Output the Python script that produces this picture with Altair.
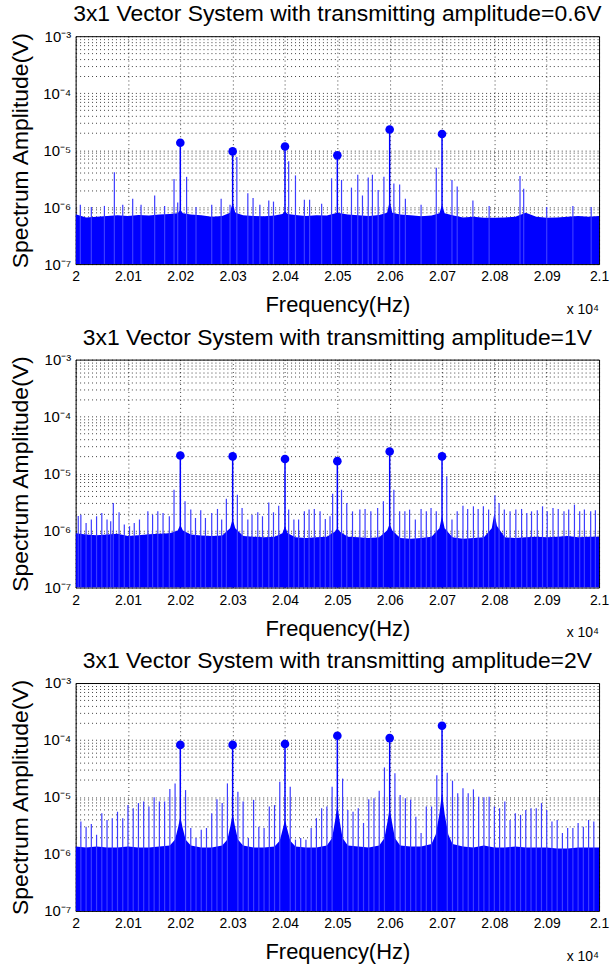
import altair as alt
import pandas as pd

FONT = "Liberation Sans"
BLUE = "#0000ff"
SPIKE = "#3c3cff"
BASE = 1e-7

# ---------------- shared axis values ----------------
x_ticks = [20000, 20100, 20200, 20300, 20400, 20500, 20600, 20700, 20800, 20900, 21000]
y_decades = [1e-7, 1e-6, 1e-5, 1e-4, 1e-3]
y_grid = [m * d for d in [1e-7, 1e-6, 1e-5, 1e-4] for m in range(1, 10)] + [1e-3]

titles = [
    "3x1 Vector System with transmitting amplitude=0.6V",
    "3x1 Vector System with transmitting amplitude=1V",
    "3x1 Vector System with transmitting amplitude=2V",
]

peak_f = [20200, 20300, 20400, 20500, 20600, 20700]

# ---------------- panel 1 : 0.6 V ----------------
p1_peak_v = [1.35e-5, 9.5e-6, 1.16e-5, 8.1e-6, 2.3e-5, 1.92e-5]
p1_spike_f = [20009, 20030, 20055, 20074, 20090, 20109, 20125, 20151, 20170, 20188,
              20195, 20212, 20230, 20260, 20278, 20295, 20308, 20329, 20339, 20352,
              20369, 20378, 20407, 20420, 20437, 20447, 20470, 20489, 20508, 20527,
              20539, 20548, 20559, 20567, 20578, 20589, 20608, 20619, 20630, 20660,
              20689, 20719, 20729, 20759, 20790, 20849, 20856, 20900, 20950, 20985]
p1_spike_v = [1.1e-6, 1.0e-6, 1.05e-6, 4.1e-6, 1.1e-6, 1.4e-6, 1.1e-6, 1.6e-6, 1.05e-6, 3.1e-6,
              1.2e-6, 3.4e-6, 1.0e-6, 1.1e-6, 1.4e-6, 1.1e-6, 7.6e-6, 1.75e-6, 1.45e-6, 1.1e-6,
              1.3e-6, 1.25e-6, 6.4e-6, 3.6e-6, 1.35e-6, 1.35e-6, 1.15e-6, 3.2e-6, 3.0e-6, 2.2e-6,
              3.7e-6, 1.6e-6, 3.3e-6, 3.7e-6, 2.0e-6, 3.4e-6, 2.6e-6, 2.5e-6, 1.4e-6, 1.1e-6,
              4.9e-6, 3.0e-6, 2.3e-6, 1.3e-6, 1.05e-6, 3.5e-6, 2.1e-6, 1.0e-6, 1.05e-6, 1.0e-6]
p1_floor_f = [20000, 20020, 20040, 20060, 20080, 20100, 20120, 20140, 20160, 20180,
              20195, 20200, 20205, 20220, 20240, 20260, 20280, 20295, 20300, 20305,
              20320, 20340, 20360, 20380, 20395, 20400, 20405, 20420, 20440, 20460,
              20480, 20500, 20520, 20540, 20560, 20580, 20595, 20600, 20605, 20620,
              20640, 20660, 20680, 20695, 20700, 20705, 20720, 20740, 20760, 20780,
              20800, 20820, 20840, 20860, 20880, 20900, 20920, 20940, 20960, 20980, 21000]
p1_floor_v = [7.5e-7, 6.6e-7, 6.8e-7, 7.0e-7, 7.2e-7, 7.0e-7, 7.3e-7, 7.1e-7, 7.4e-7, 7.6e-7,
              7.8e-7, 9.0e-7, 7.8e-7, 7.4e-7, 7.2e-7, 6.8e-7, 7.0e-7, 8.0e-7, 1.2e-6, 8.0e-7,
              7.2e-7, 7.0e-7, 6.9e-7, 7.1e-7, 7.6e-7, 8.5e-7, 7.6e-7, 7.3e-7, 7.0e-7, 7.2e-7,
              7.1e-7, 8.0e-7, 7.4e-7, 7.2e-7, 7.0e-7, 7.3e-7, 8.0e-7, 1.25e-6, 8.0e-7, 7.4e-7,
              7.2e-7, 6.9e-7, 7.1e-7, 7.8e-7, 1.1e-6, 7.8e-7, 7.2e-7, 6.6e-7, 6.8e-7, 6.5e-7,
              6.5e-7, 6.6e-7, 6.8e-7, 8.0e-7, 6.8e-7, 6.5e-7, 6.6e-7, 6.8e-7, 7.0e-7, 6.8e-7, 7.0e-7]

# ---------------- panel 2 : 1 V ----------------
p2_peak_v = [2.07e-5, 2.0e-5, 1.8e-5, 1.65e-5, 2.44e-5, 2.0e-5]
p2_spike_f = [20005, 20010, 20020, 20030, 20040, 20050, 20060, 20067, 20072, 20083,
              20093, 20103, 20112, 20122, 20138, 20147, 20157, 20167, 20179, 20188,
              20209, 20220, 20229, 20239, 20248, 20260, 20271, 20279, 20288, 20309,
              20318, 20329, 20337, 20348, 20357, 20369, 20378, 20388, 20407, 20417,
              20426, 20437, 20446, 20456, 20467, 20477, 20486, 20491, 20508, 20518,
              20529, 20543, 20553, 20564, 20577, 20588, 20608, 20619, 20629, 20638,
              20649, 20660, 20670, 20679, 20689, 20709, 20719, 20729, 20740, 20749,
              20760, 20769, 20779, 20789, 20801, 20809, 20819, 20830, 20841, 20852,
              20862, 20871, 20882, 20892, 20901, 20912, 20922, 20933, 20942, 20953,
              20963, 20972, 20984, 20993]
p2_spike_v = [1.8e-6, 1.9e-6, 1.36e-6, 1.56e-6, 1.78e-6, 2.04e-6, 1.56e-6, 1.46e-6, 3.05e-6, 2.09e-6,
              1.27e-6, 1.19e-6, 1.36e-6, 1.56e-6, 2.17e-6, 1.9e-6, 2.17e-6, 2.04e-6, 1.78e-6, 5.2e-6,
              3.25e-6, 2.33e-6, 1.66e-6, 2.26e-6, 1.66e-6, 2.04e-6, 2.39e-6, 1.56e-6, 3.6e-6, 4.25e-6,
              2.49e-6, 1.56e-6, 1.9e-6, 2.09e-6, 1.78e-6, 3.1e-6, 2.09e-6, 2.73e-6, 2.33e-6, 1.56e-6,
              1.56e-6, 2.17e-6, 2.33e-6, 2.39e-6, 2.17e-6, 1.6e-6, 1.78e-6, 4.4e-6, 5.2e-6, 3.05e-6,
              2.17e-6, 2.33e-6, 2.39e-6, 2.17e-6, 2.49e-6, 3.25e-6, 5.2e-6, 2.17e-6, 2.17e-6, 2.33e-6,
              1.56e-6, 2.39e-6, 2.17e-6, 2.49e-6, 2.17e-6, 8.9e-6, 1.56e-6, 2.17e-6, 2.73e-6, 2.39e-6,
              2.66e-6, 2.39e-6, 2.66e-6, 2.33e-6, 4.1e-6, 3.05e-6, 2.33e-6, 2.17e-6, 2.33e-6, 2.39e-6,
              2.04e-6, 2.17e-6, 2.26e-6, 2.66e-6, 2.17e-6, 2.49e-6, 2.39e-6, 2.17e-6, 2.33e-6, 2.85e-6,
              2.17e-6, 2.33e-6, 2.17e-6, 2.26e-6]
p2_floor_f = [20000, 20020, 20040, 20060, 20080, 20100, 20120, 20140, 20160, 20180,
              20195, 20200, 20205, 20220, 20240, 20260, 20280, 20295, 20300, 20305,
              20320, 20340, 20360, 20380, 20395, 20400, 20405, 20420, 20440, 20460,
              20480, 20495, 20500, 20505, 20520, 20540, 20560, 20580, 20595, 20600,
              20605, 20620, 20640, 20660, 20680, 20695, 20700, 20705, 20720, 20740,
              20760, 20780, 20795, 20800, 20805, 20820, 20840, 20860, 20880, 20900,
              20920, 20940, 20960, 20980, 21000]
p2_floor_v = [9.0e-7, 8.5e-7, 8.3e-7, 8.5e-7, 8.8e-7, 8.0e-7, 8.3e-7, 8.6e-7, 8.8e-7, 9.0e-7,
              1.0e-6, 1.25e-6, 1.0e-6, 8.5e-7, 8.2e-7, 8.0e-7, 8.2e-7, 1.1e-6, 1.6e-6, 1.1e-6,
              8.0e-7, 7.8e-7, 7.6e-7, 7.8e-7, 9.0e-7, 1.2e-6, 9.0e-7, 7.6e-7, 7.4e-7, 7.6e-7,
              7.8e-7, 9.5e-7, 1.1e-6, 9.5e-7, 7.8e-7, 7.6e-7, 7.4e-7, 7.6e-7, 1.0e-6, 1.3e-6,
              1.0e-6, 7.4e-7, 7.2e-7, 7.4e-7, 7.8e-7, 1.1e-6, 1.8e-6, 1.1e-6, 7.6e-7, 7.2e-7,
              7.4e-7, 7.6e-7, 1.1e-6, 2.0e-6, 1.2e-6, 7.6e-7, 7.4e-7, 7.6e-7, 7.8e-7, 7.6e-7,
              7.8e-7, 8.0e-7, 7.6e-7, 7.8e-7, 7.8e-7]

# ---------------- panel 3 : 2 V ----------------
p3_peak_v = [8.2e-5, 8.2e-5, 8.5e-5, 1.19e-4, 1.08e-4, 1.78e-4]
p3_spike_f = [20010, 20020, 20030, 20040, 20050, 20060, 20070, 20080, 20090, 20100,
              20110, 20120, 20130, 20140, 20150, 20160, 20170, 20180, 20190, 20210,
              20220, 20230, 20240, 20250, 20260, 20270, 20280, 20290, 20310, 20320,
              20330, 20340, 20350, 20360, 20370, 20380, 20390, 20410, 20420, 20430,
              20440, 20450, 20460, 20470, 20480, 20490, 20510, 20520, 20530, 20540,
              20550, 20560, 20570, 20580, 20590, 20610, 20620, 20630, 20640, 20650,
              20660, 20670, 20680, 20690, 20710, 20720, 20730, 20740, 20750, 20760,
              20770, 20780, 20790, 20800, 20810, 20820, 20830, 20840, 20850, 20860,
              20870, 20880, 20890, 20900, 20910, 20920, 20930, 20940, 20950, 20960,
              20970, 20980, 20990]
p3_spike_v = [3.7e-6, 3.0e-6, 3.35e-6, 2.17e-6, 5.2e-6, 3.95e-6, 4.25e-6, 5.5e-6, 4.25e-6, 7.2e-6,
              6.35e-6, 7.8e-6, 8.3e-6, 6.8e-6, 9.9e-6, 8.3e-6, 8.3e-6, 1.38e-5, 1.73e-5, 1.32e-5,
              2.85e-6, 1.9e-6, 2.65e-6, 2.85e-6, 5.2e-6, 9.1e-6, 7.8e-6, 1.73e-5, 1.24e-5, 8.3e-6,
              1.9e-6, 8.9e-6, 3.0e-6, 2.85e-6, 6.8e-6, 7.2e-6, 1.85e-5, 1.51e-5, 1.78e-6, 1.9e-6,
              1.78e-6, 2.85e-6, 4.25e-6, 6.35e-6, 6.8e-6, 1.51e-5, 2.1e-5, 5.9e-6, 5.5e-6, 6.35e-6,
              3.5e-6, 9.1e-6, 9.5e-6, 1.29e-5, 3.3e-5, 2.6e-5, 1.08e-5, 9.5e-6, 8.9e-6, 4.5e-6,
              2.33e-6, 6.8e-6, 6.8e-6, 2.4e-5, 2.65e-5, 1.93e-5, 1.16e-5, 1.42e-5, 1.16e-5, 1.36e-5,
              1.01e-5, 9.9e-6, 1.01e-5, 6.8e-6, 6.35e-6, 8.3e-6, 3.95e-6, 5.2e-6, 4.85e-6, 5.9e-6,
              6.35e-6, 6.35e-6, 7.8e-6, 5.9e-6, 3.7e-6, 3.95e-6, 2.33e-6, 2.85e-6, 2.85e-6, 3.5e-6,
              3.0e-6, 3.95e-6, 3.7e-6]
p3_floor_f = [20000, 20020, 20040, 20060, 20080, 20100, 20120, 20140, 20160, 20180,
              20190, 20196, 20200, 20204, 20210, 20220, 20240, 20260, 20280, 20290,
              20296, 20300, 20304, 20310, 20320, 20340, 20360, 20380, 20390, 20396,
              20400, 20404, 20410, 20420, 20440, 20460, 20480, 20490, 20496, 20500,
              20504, 20510, 20520, 20540, 20560, 20580, 20590, 20596, 20600, 20604,
              20610, 20620, 20640, 20660, 20680, 20688, 20695, 20700, 20705, 20712,
              20720, 20740, 20760, 20780, 20800, 20820, 20840, 20860, 20880, 20900,
              20920, 20940, 20960, 20980, 21000]
p3_floor_v = [1.35e-6, 1.3e-6, 1.35e-6, 1.3e-6, 1.3e-6, 1.35e-6, 1.3e-6, 1.3e-6, 1.35e-6, 1.4e-6,
              1.8e-6, 3.0e-6, 4.5e-6, 3.0e-6, 1.8e-6, 1.4e-6, 1.3e-6, 1.3e-6, 1.4e-6, 1.8e-6,
              3.2e-6, 5.2e-6, 3.2e-6, 1.8e-6, 1.4e-6, 1.3e-6, 1.3e-6, 1.35e-6, 1.7e-6, 2.8e-6,
              4.0e-6, 2.8e-6, 1.7e-6, 1.35e-6, 1.3e-6, 1.3e-6, 1.4e-6, 1.9e-6, 4.0e-6, 7.3e-6,
              4.0e-6, 1.9e-6, 1.4e-6, 1.35e-6, 1.3e-6, 1.4e-6, 1.9e-6, 3.8e-6, 6.4e-6, 3.8e-6,
              1.9e-6, 1.4e-6, 1.35e-6, 1.35e-6, 1.5e-6, 2.2e-6, 5.0e-6, 1.2e-5, 5.0e-6, 2.2e-6,
              1.5e-6, 1.35e-6, 1.3e-6, 1.4e-6, 1.3e-6, 1.3e-6, 1.35e-6, 1.3e-6, 1.3e-6, 1.3e-6,
              1.25e-6, 1.25e-6, 1.3e-6, 1.3e-6, 1.3e-6]

SUP = {1e-7: "10⁻⁷", 1e-6: "10⁻⁶", 1e-5: "10⁻⁵", 1e-4: "10⁻⁴", 1e-3: "10⁻³"}
y_label_expr = " : ".join(
    [f"datum.value == {k:g} ? '{v}'" for k, v in SUP.items()]
) + " : ''"

x_scale = alt.Scale(domain=[20000, 21000], nice=False, zero=False)
y_scale = alt.Scale(type="log", domain=[1e-7, 1e-3], nice=False)

x_axis = alt.Axis(
    values=x_ticks, labelExpr="format(datum.value / 10000, '.3~f')",
    title="Frequency(Hz)", grid=True, gridDash=[1, 3], gridColor="#000000",
    gridOpacity=0.75, ticks=False, domain=False, labelFlush=False,
    labelPadding=6, titlePadding=11, labelFontSize=14, titleFontSize=22,
    labelFont=FONT, titleFont=FONT, labelColor="#000", titleColor="#000",
    titleFontWeight="normal",
)
y_axis = alt.Axis(
    values=y_grid, labelExpr=y_label_expr, title="Spectrum Amplitude(V)",
    grid=True, gridDash=[1, 3], gridColor="#000000", gridOpacity=0.75,
    ticks=False, domain=False, labelOverlap=False, labelPadding=5,
    titlePadding=10, labelFontSize=15, titleFontSize=23, labelFont=FONT,
    titleFont=FONT, labelColor="#000", titleColor="#000",
    titleFontWeight="normal", labelBaseline="middle",
)


def panel(title, peak_v, spike_f, spike_v, floor_f, floor_v):
    floor_df = pd.DataFrame({"f": floor_f, "v": floor_v, "b": BASE})
    spike_df = pd.DataFrame({"f": spike_f, "v": spike_v, "b": BASE})
    peak_df = pd.DataFrame({"f": peak_f, "v": peak_v, "b": BASE})

    floor = alt.Chart(floor_df).mark_area(color=BLUE, opacity=1, clip=True).encode(
        x=alt.X("f:Q", scale=x_scale, axis=x_axis),
        y=alt.Y("v:Q", scale=y_scale, axis=y_axis),
        y2="b:Q",
    )
    spikes = alt.Chart(spike_df).mark_rule(color=SPIKE, strokeWidth=1.2).encode(
        x="f:Q", y="v:Q", y2="b:Q"
    )
    stems = alt.Chart(peak_df).mark_rule(color=BLUE, strokeWidth=1.5).encode(
        x="f:Q", y="v:Q", y2="b:Q"
    )
    dots = alt.Chart(peak_df).mark_circle(color=BLUE, size=75, opacity=1).encode(
        x="f:Q", y="v:Q"
    )
    note = alt.Chart(pd.DataFrame({"t": ["x 10⁴"]})).mark_text(
        align="right", baseline="alphabetic", font=FONT, fontSize=14,
        color="#000", dy=50, clip=False
    ).encode(x=alt.datum(21000), y=alt.datum(BASE), text="t:N")

    return alt.layer(floor, spikes, stems, dots, note).properties(
        width=526, height=229,
        title=alt.TitleParams(title, fontSize=23, font=FONT, fontWeight="normal",
                              color="#000", anchor="middle", offset=3),
    )


chart = alt.vconcat(
    panel(titles[0], p1_peak_v, p1_spike_f, p1_spike_v, p1_floor_f, p1_floor_v),
    panel(titles[1], p2_peak_v, p2_spike_f, p2_spike_v, p2_floor_f, p2_floor_v),
    panel(titles[2], p3_peak_v, p3_spike_f, p3_spike_v, p3_floor_f, p3_floor_v),
    spacing=8,
).configure_view(stroke="#000", strokeWidth=1).properties(
    padding={"left": 9, "right": 0, "top": 0, "bottom": 1},
    background="#ffffff",
)

chart.save("out.html", embed_options={"renderer": "svg", "actions": False})
